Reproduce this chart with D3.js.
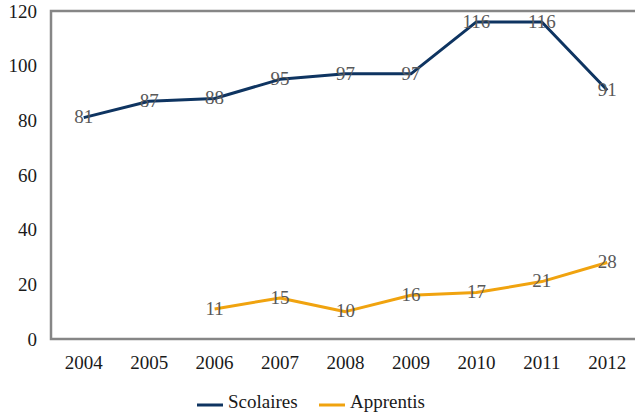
<!DOCTYPE html>
<html><head><meta charset="utf-8">
<script src="https://cdn.jsdelivr.net/npm/d3@7"></script>
<style>body{margin:0;background:#fff;}svg{display:block;} svg text{font-family:"Liberation Serif","Times New Roman",serif !important;}</style>
</head><body><svg id="c" width="635" height="415"></svg>
<script>
const years = ["2004","2005","2006","2007","2008","2009","2010","2011","2012"];
const scolaires = [81,87,88,95,97,97,116,116,91];
const apprentis = [null,null,11,15,10,16,17,21,28];
const yTicks = [0,20,40,60,80,100,120];
const seriesNames = ["Scolaires","Apprentis"];
const colors = ["#0e3461","#f0a30f"];

const svg = d3.select("#c");
const pL = 51, pR = 640, pT = 11, pB = 339;
const x = d3.scaleBand().domain(years).range([pL, pR]);
const y = d3.scaleLinear().domain([0,120]).range([pB, pT]);

svg.append("rect").attr("x",pL).attr("y",pT).attr("width",pR-pL).attr("height",pB-pT)
  .attr("fill","none").attr("stroke","#868686").attr("stroke-width",2.5);

const yAxis = svg.append("g").attr("transform",`translate(${pL},0)`)
  .call(d3.axisLeft(y).tickValues(yTicks).tickSize(0).tickPadding(14));
yAxis.select(".domain").remove();
yAxis.attr("font-family", null);
yAxis.selectAll("text").attr("font-size",19).attr("fill","#1a1a1a");

const xAxis = svg.append("g").attr("transform",`translate(0,${pB})`)
  .call(d3.axisBottom(x).tickSize(0).tickPadding(17));
xAxis.select(".domain").remove();
xAxis.attr("font-family", null);
xAxis.selectAll("text").attr("font-size",19).attr("fill","#1a1a1a");

const cx = d => x(d) + x.bandwidth()/2;
const allSeries = [scolaires, apprentis];
allSeries.forEach((vals, i) => {
  const pts = years.map((yr, j) => ({yr, v: vals[j]})).filter(p => p.v !== null);
  const line = d3.line().x(p => cx(p.yr)).y(p => y(p.v));
  svg.append("path").datum(pts).attr("d", line).attr("fill","none")
    .attr("stroke", colors[i]).attr("stroke-width",3).attr("stroke-linejoin","round");
  svg.append("g").selectAll("text").data(pts).join("text")
    .attr("x", p => cx(p.yr)).attr("y", p => y(p.v)).attr("dy","0.3em")
    .attr("text-anchor","middle").attr("font-size",19).attr("fill","#595959")
    .text(p => p.v);
});

const lg = svg.append("g");
const legX = [197, 319];
seriesNames.forEach((n, i) => {
  lg.append("line").attr("x1",legX[i]).attr("x2",legX[i]+26).attr("y1",405).attr("y2",405)
    .attr("stroke",colors[i]).attr("stroke-width",3);
  lg.append("text").attr("x",legX[i]+31).attr("y",408).attr("font-size",19).attr("fill","#1a1a1a").text(n);
});
</script></body></html>
